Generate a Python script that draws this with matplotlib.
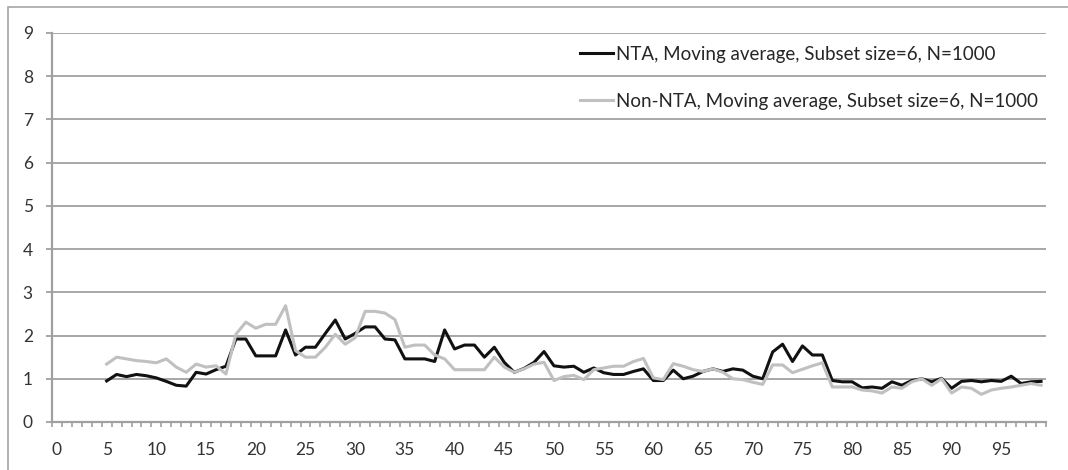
import numpy as np
import matplotlib
matplotlib.use('Agg')
import matplotlib.pyplot as plt
from matplotlib.patches import Rectangle

plt.rcParams['font.family'] = ['Lato', 'DejaVu Sans']

# DATOS
x = list(range(5, 100))

nta = [0.95, 1.10, 1.05, 1.10, 1.07, 1.02, 0.94, 0.85, 0.83, 1.15,
       1.11, 1.21, 1.29, 1.92, 1.92, 1.53, 1.53, 1.53, 2.13, 1.55,
       1.73, 1.73, 2.05, 2.36, 1.92, 2.05, 2.20, 2.20, 1.92, 1.90,
       1.46, 1.46, 1.46, 1.40, 2.13, 1.69, 1.78, 1.78, 1.50, 1.73,
       1.38, 1.15, 1.24, 1.38, 1.63, 1.30, 1.27, 1.29, 1.15, 1.25,
       1.14, 1.10, 1.10, 1.17, 1.23, 0.96, 0.96, 1.20, 1.00, 1.06,
       1.17, 1.23, 1.17, 1.23, 1.20, 1.06, 1.00, 1.62, 1.80, 1.40,
       1.76, 1.55, 1.55, 0.96, 0.93, 0.93, 0.79, 0.81, 0.78, 0.93,
       0.85, 0.96, 1.00, 0.93, 1.01, 0.78, 0.94, 0.96, 0.93, 0.96,
       0.94, 1.06, 0.89, 0.93, 0.94]

non_nta = [1.34, 1.50, 1.46, 1.42, 1.40, 1.37, 1.46, 1.27, 1.15, 1.34,
           1.27, 1.30, 1.11, 2.03, 2.31, 2.17, 2.26, 2.26, 2.69, 1.65,
           1.50, 1.50, 1.73, 2.03, 1.80, 1.95, 2.56, 2.56, 2.52, 2.37,
           1.73, 1.78, 1.78, 1.55, 1.46, 1.21, 1.21, 1.21, 1.21, 1.50,
           1.27, 1.15, 1.23, 1.34, 1.38, 0.96, 1.05, 1.08, 0.98, 1.21,
           1.25, 1.29, 1.29, 1.40, 1.47, 1.02, 0.98, 1.35, 1.29, 1.21,
           1.17, 1.23, 1.15, 1.00, 0.98, 0.92, 0.87, 1.32, 1.32, 1.14,
           1.22, 1.30, 1.37, 0.81, 0.81, 0.81, 0.74, 0.72, 0.67, 0.81,
           0.78, 0.93, 1.00, 0.85, 1.00, 0.67, 0.81, 0.78, 0.64, 0.74,
           0.78, 0.81, 0.85, 0.89, 0.85]

labels = ['NTA, Moving average, Subset size=6, N=1000',
          'Non-NTA, Moving average, Subset size=6, N=1000']

x_major = list(range(0, 100, 5))
y_major = list(range(0, 10))

#------------------------------------------------------------------------------
# FIGURA

fig = plt.figure(figsize=(10.68, 4.70), dpi=100)
ax = fig.add_axes([52/1068, 1 - 422/470, 994/1068, 389/470])

# marco exterior del grafico
fig.patches.append(Rectangle((8/1068, -0.05), 1.2, 1 - 7/470 + 0.05,
                             transform=fig.transFigure, fill=False,
                             edgecolor='#a6a6a6', linewidth=1.2))

ax.plot(x, nta, color='#111111', linewidth=2.2, label=labels[0], zorder=3)
ax.plot(x, non_nta, color='#c0c0c0', linewidth=2.2, label=labels[1], zorder=4)

ax.set_xlim(-0.5, 99.5)
ax.set_ylim(0, 9)

ax.set_yticks(y_major)
ax.set_xticks(x_major)
ax.set_xticks(np.arange(-0.5, 100, 1), minor=True)

ax.yaxis.grid(True, color='#a0a0a0', linewidth=1.3)
ax.set_axisbelow(True)

for s in ['top', 'right']:
    ax.spines[s].set_visible(False)
for s in ['left', 'bottom']:
    ax.spines[s].set_color('#a0a0a0')
    ax.spines[s].set_linewidth(1.6)

ax.tick_params(axis='y', which='major', length=4.3, width=1.3, color='#a0a0a0',
               labelsize=12.5, labelcolor='#333333', pad=9.5)
ax.tick_params(axis='x', which='major', length=0, labelsize=12.5,
               labelcolor='#333333', pad=14.5)
ax.tick_params(axis='x', which='minor', length=3.6, width=1.2, color='#a0a0a0')

# leyenda: centro entre las dos entradas en y=78 px, muestra desde x=580 px
leg = fig.legend(loc='center left', bbox_to_anchor=(580/1068, 1 - 78/470),
                 frameon=False, fontsize=13.5, handlelength=1.75,
                 handletextpad=0.15, labelspacing=1.6, borderpad=0,
                 borderaxespad=0)
for t in leg.get_texts():
    t.set_color('#262626')

fig.savefig('out.png', dpi=100)
